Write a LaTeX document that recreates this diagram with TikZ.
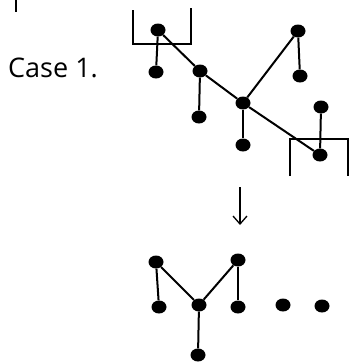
\documentclass[tikz,border=0pt]{standalone}
\usepackage{fontspec}
\setmainfont{Open Sans}
\usetikzlibrary{arrows.meta,shapes.geometric}
\begin{document}
\begin{tikzpicture}[x=1pt,y=-1pt,
  dot/.style={ellipse,fill=black,inner sep=0pt,minimum width=15pt,minimum height=13pt},
  edge/.style={line width=2pt},
  bracket/.style={line width=1.6pt},
  lbl/.style={font=\fontsize{27}{32}\selectfont,inner sep=0pt}]
\useasboundingbox (0,0) rectangle (350,364);
% stray mark at top left
\draw[bracket] (16,0) -- (16,12);
\node[lbl,anchor=base west] (case) at (8,77) {Case 1.};
% top graph
\node[dot] (a) at (158,30) {};
\node[dot] (a1) at (156,72) {};
\node[dot] (b) at (200,71) {};
\node[dot] (b1) at (199,117) {};
\node[dot] (c) at (243,103) {};
\node[dot] (c1) at (243,145) {};
\node[dot] (d) at (298,31) {};
\node[dot] (d1) at (300,76) {};
\node[dot] (e) at (320,155) {};
\node[dot] (f) at (321,107) {};
\draw[edge] (a) -- (a1);
\draw[edge] (a) -- (b);
\draw[edge] (b) -- (b1);
\draw[edge] (b) -- (c);
\draw[edge] (c) -- (c1);
\draw[edge] (c) -- (d);
\draw[edge] (d) -- (d1);
\draw[edge] (c) -- (e);
\draw[edge] (e) -- (f);
% brackets
\coordinate (k1) at (133,10);
\coordinate (k2) at (133,44);
\coordinate (k3) at (191,44);
\coordinate (k4) at (191,8);
\draw[bracket] (k1) -- (k2) -- (k3) -- (k4);
\coordinate (m1) at (290,176);
\coordinate (m2) at (290,139);
\coordinate (m3) at (348,139);
\coordinate (m4) at (348,176);
\draw[bracket] (m1) -- (m2) -- (m3) -- (m4);
% arrow
\coordinate (ar1) at (240,187);
\coordinate (ar2) at (240,225);
\draw[line width=1.3pt,-{Straight Barb[length=8pt,width=14pt]}] (ar1) -- (ar2);
% bottom graph
\node[dot] (p) at (156,262) {};
\node[dot] (q) at (159,307) {};
\node[dot] (r) at (199,305) {};
\node[dot] (s) at (198,355) {};
\node[dot] (t) at (238,260) {};
\node[dot] (u) at (238,307) {};
\node[dot] (v) at (283,305) {};
\node[dot] (w) at (322,306) {};
\draw[edge] (p) -- (q);
\draw[edge] (p) -- (r);
\draw[edge] (t) -- (r);
\draw[edge] (t) -- (u);
\draw[edge] (r) -- (s);
\end{tikzpicture}
\end{document}
